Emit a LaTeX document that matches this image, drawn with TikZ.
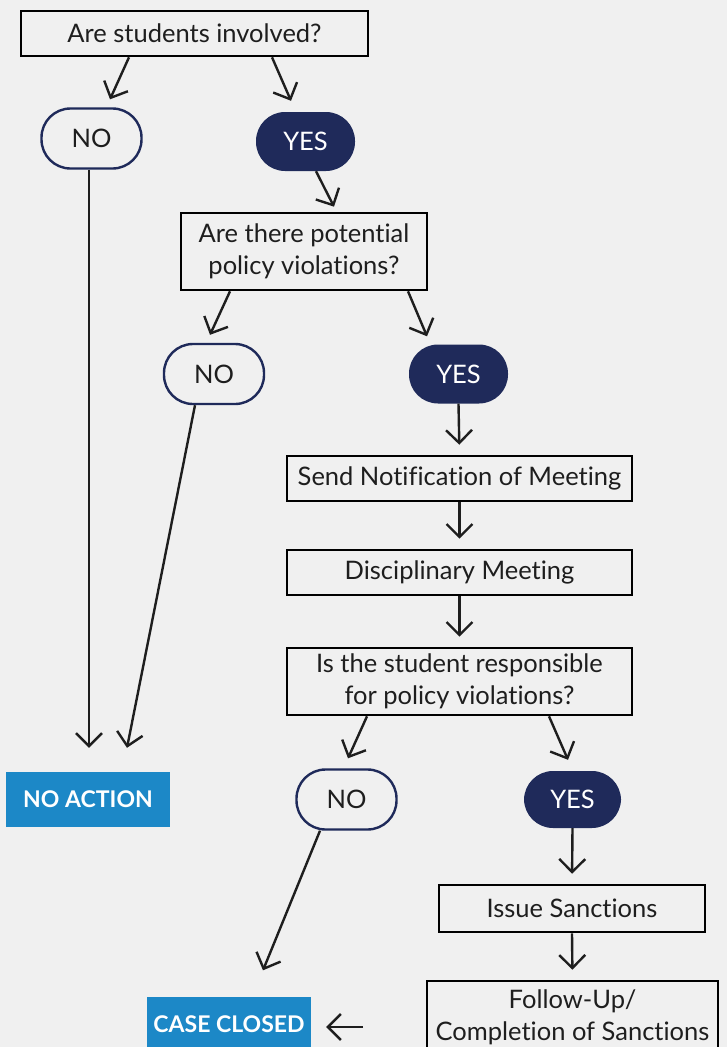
\documentclass[tikz,border=0pt]{standalone}
\usepackage{fontspec}
\setmainfont[Ligatures=NoCommon]{Lato}
\usepackage{xcolor}
\usetikzlibrary{positioning, arrows.meta}

\definecolor{navy}{RGB}{31,42,90}
\definecolor{tagblue}{RGB}{28,136,199}
\definecolor{paper}{RGB}{240,240,240}
\definecolor{ink}{RGB}{30,30,30}

\begin{document}
\begin{tikzpicture}[x=1pt, y=-1pt, font=\fontsize{25.5}{32}\selectfont,
    qbox/.style={draw=black, line width=2.6pt, fill=paper, text=ink, align=center, inner sep=0pt},
    nopill/.style={draw=navy, line width=2.4pt, fill=paper, text=ink, rounded corners=29pt, minimum width=100pt, minimum height=60pt},
    yespill/.style={fill=navy, text=white, rounded corners=29pt, minimum width=99pt, minimum height=59pt},
    endtag/.style={fill=tagblue, text=white, font=\fontsize{23}{26}\selectfont\bfseries, minimum width=164pt, minimum height=55pt},
    arr/.style={-{Straight Barb[length=13pt, width=26pt, line width=2.4pt]}, line width=2.4pt, draw=ink}]
    % Page and background
    \useasboundingbox (0,0) rectangle (727,1047);
    \fill[paper] (0,0) rectangle (727,1047);

    % Question boxes and steps
    \node[qbox, minimum width=347pt, minimum height=45pt] (q1) at (194.5,33.5) {Are students involved?};
    \node[qbox, minimum width=246pt, minimum height=77pt] (q2) at (304,251.5) {Are there potential\\policy violations?};
    \node[qbox, minimum width=345pt, minimum height=45pt] (notify) at (459.5,478.5) {Send Notification of Meeting};
    \node[qbox, minimum width=345pt, minimum height=45pt] (meet) at (459.5,572.5) {Disciplinary Meeting};
    \node[qbox, minimum width=345pt, minimum height=67pt] (resp) at (459.5,681.5) {Is the student responsible\\for policy violations?};
    \node[qbox, minimum width=266pt, minimum height=47pt] (sanct) at (572,908.5) {Issue Sanctions};
    \node[qbox, minimum width=291pt, minimum height=72pt] (follow) at (572.5,1017) {Follow-Up/\\Completion of Sanctions};

    % Answers
    \node[nopill] (no1) at (91.5,138.5) {NO};
    \node[yespill] (yes1) at (305.5,141.5) {YES};
    \node[nopill] (no2) at (214,374) {NO};
    \node[yespill] (yes2) at (458.5,374) {YES};
    \node[nopill] (no3) at (346.5,799.5) {NO};
    \node[yespill, minimum width=97pt, minimum height=57pt] (yes3) at (572.5,799.5) {YES};

    % Outcomes
    \node[endtag] (noact) at (88,799.5) {NO ACTION};
    \node[endtag] (closed) at (229,1024) {CASE CLOSED};
    \coordinate (fin) at (363,1027);

    % Branches
    \draw[arr] ([xshift=-65.5]q1.south) -- ([xshift=18.5, yshift=8]no1.north);
    \draw[arr] ([xshift=77.5]q1.south) -- ([xshift=-14.5, yshift=11]yes1.north);
    \draw[arr] ([xshift=10.5]yes1.south) -- ([xshift=30, yshift=5]q2.north);
    \draw[arr] ([xshift=-74]q2.south) -- ([xshift=-4, yshift=8]no2.north);
    \draw[arr] ([xshift=104]q2.south) -- ([xshift=-31.5, yshift=8]yes2.north);
    \draw[arr] ([xshift=-92.5]resp.south) -- ([xshift=1.5, yshift=10]no3.north);
    \draw[arr] ([xshift=89.5]resp.south) -- ([xshift=-4.5, yshift=11]yes3.north);

    % Straight steps
    \foreach \a/\b in {yes2/notify, notify/meet, meet/resp, yes3/sanct, sanct/follow} {
        \draw[arr, shorten >=10pt] (\a.south) -- (\b.north);
    }

    % Paths to the outcomes
    \draw[arr, shorten >=24pt] ([xshift=-2.5]no1.south) -- ([xshift=-2.5]no1.south |- noact.north);
    \draw[arr] ([xshift=-19]no2.south) -- ([xshift=39, yshift=24]noact.north);
    \draw[arr] ([xshift=-26.5]no3.south) -- ([xshift=34, yshift=26]closed.north);
    \draw[arr, shorten >=15pt] (fin) -- (fin -| closed.east);
\end{tikzpicture}
\end{document}
